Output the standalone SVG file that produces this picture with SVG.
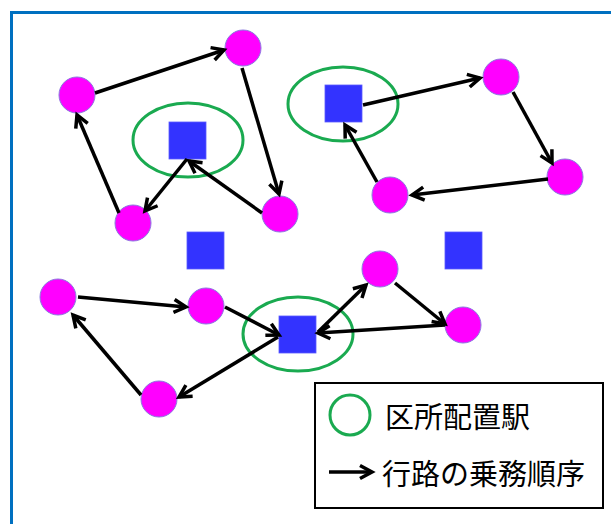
<svg xmlns="http://www.w3.org/2000/svg" width="611" height="524" viewBox="0 0 611 524">
<defs>
<marker id="ah" markerUnits="userSpaceOnUse" markerWidth="18" markerHeight="18" viewBox="-14 -9 18 18" refX="0" refY="0" orient="auto">
<path d="M-12,-6.5 L0,0 L-12,6.5" fill="none" stroke="#000" stroke-width="3.5" stroke-linejoin="miter"/>
</marker>
</defs>
<style>
.c{fill:#FF00FF;stroke:#8A7BE0;stroke-width:1}
.s{fill:#3333FF;stroke:#5A5AFF;stroke-width:0.8}
.e{fill:none;stroke:#1AAA50;stroke-width:3}
.a{stroke:#000;stroke-width:3.5;fill:none;marker-end:url(#ah)}
.t{font-family:"Noto Sans CJK JP","Noto Sans CJK SC",sans-serif;font-size:29px;fill:#000}
</style>
<rect x="0" y="0" width="611" height="524" fill="#fff"/>
<rect id="frame" x="11.5" y="12.5" width="640" height="560" fill="none" stroke="#0070C0" stroke-width="3"/>
<g id="stations">
<ellipse id="ring1" class="e" cx="188" cy="140" rx="55" ry="37"/>
<ellipse id="ring2" class="e" cx="343" cy="104" rx="55" ry="37"/>
<ellipse id="ring3" class="e" cx="298" cy="334" rx="55" ry="37"/>
</g>
<g id="sq1"><rect class="s" x="169" y="122" width="37" height="37"/></g>
<g id="sq2"><rect class="s" x="325" y="85" width="37" height="37"/></g>
<g id="sq3"><rect class="s" x="187" y="232" width="37" height="37"/></g>
<g id="sq4"><rect class="s" x="445" y="232" width="37" height="37"/></g>
<g id="sq5"><rect class="s" x="279" y="316" width="37" height="37"/></g>
<g id="n1"><circle class="c" cx="77" cy="95" r="18"/></g>
<g id="n2"><circle class="c" cx="243" cy="48" r="18"/></g>
<g id="n3"><circle class="c" cx="280" cy="214" r="18"/></g>
<g id="n4"><circle class="c" cx="133" cy="223" r="18"/></g>
<g id="n5"><circle class="c" cx="501" cy="77" r="18"/></g>
<g id="n6"><circle class="c" cx="565" cy="177" r="18"/></g>
<g id="n7"><circle class="c" cx="390" cy="195" r="18"/></g>
<g id="n8"><circle class="c" cx="58" cy="297" r="18"/></g>
<g id="n9"><circle class="c" cx="206" cy="306" r="18"/></g>
<g id="n10"><circle class="c" cx="380" cy="269" r="18"/></g>
<g id="n11"><circle class="c" cx="463" cy="325" r="18"/></g>
<g id="n12"><circle class="c" cx="159" cy="399" r="18"/></g>
<g id="connectors">
<line class="a" x1="95" y1="93" x2="224" y2="50"/>
<line class="a" x1="242" y1="68" x2="279" y2="194"/>
<line class="a" x1="262" y1="213" x2="189" y2="161"/>
<line class="a" x1="187" y1="159" x2="145" y2="211"/>
<line class="a" x1="119" y1="213" x2="77" y2="115"/>
<line class="a" x1="363" y1="105" x2="480" y2="78"/>
<line class="a" x1="513" y1="92" x2="552" y2="163"/>
<line class="a" x1="548" y1="179" x2="412" y2="195"/>
<line class="a" x1="377" y1="182" x2="345" y2="125"/>
<line class="a" x1="78" y1="297" x2="186" y2="307"/>
<line class="a" x1="225" y1="307" x2="279" y2="335"/>
<line class="a" x1="278" y1="337" x2="179" y2="397"/>
<line class="a" x1="141" y1="395" x2="73" y2="315"/>
<line class="a" x1="318" y1="332" x2="366" y2="285"/>
<line class="a" x1="395" y1="283" x2="445" y2="324"/>
<line class="a" x1="445" y1="325" x2="318" y2="333"/>
</g>
<g id="legend">
<rect x="315" y="383" width="288" height="125" fill="#fff" stroke="#000" stroke-width="2"/>
<circle cx="350" cy="415" r="20" fill="none" stroke="#1AAA50" stroke-width="3"/>
<text class="t" x="385" y="428">区所配置駅</text>
<line class="a" x1="329" y1="472" x2="372" y2="472"/>
<text class="t" x="382" y="485">行路の乗務順序</text>
</g>
</svg>
